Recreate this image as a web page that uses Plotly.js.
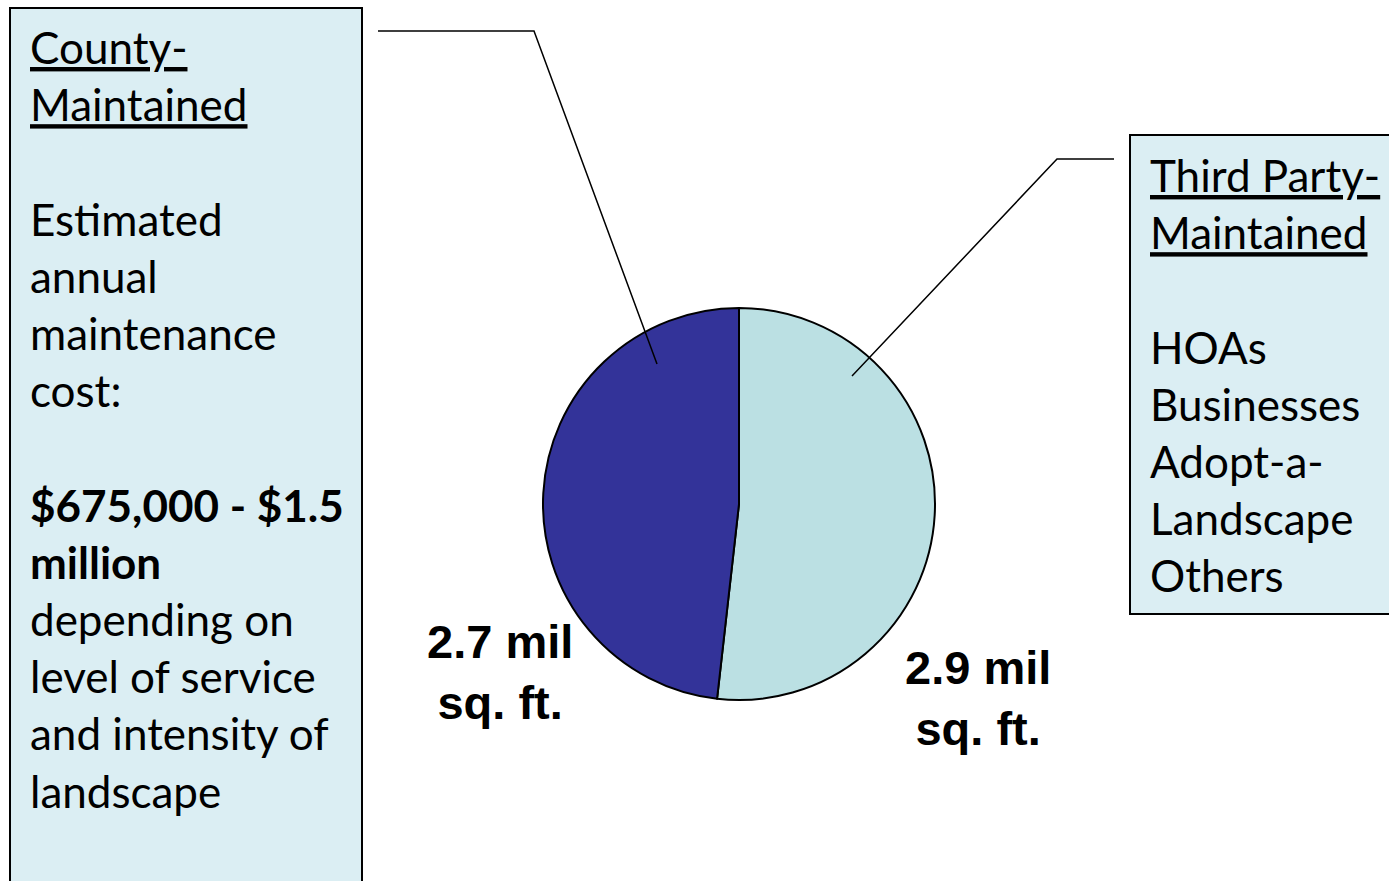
<!DOCTYPE html>
<html>
<head>
<meta charset="utf-8">
<script src="https://cdn.plot.ly/plotly-3.0.1.min.js"></script>
<style>html,body{margin:0;padding:0;background:#fff;}#chart{width:1389px;height:881px;}</style>
</head>
<body>
<div id="chart"></div>
<script>
// ---- data ----
const categories = ["Third Party-Maintained", "County-Maintained"];
const areaMilSqFt = [2.9, 2.7];
const sliceColors = ["#BBE0E3", "#333399"];
const areaLabels = ["2.9 mil<br>sq. ft.", "2.7 mil<br>sq. ft."];
const countyTitle = ["County-", "Maintained"];
const countyBody = ["Estimated", "annual", "maintenance", "cost:"];
const countyCostBold = ["$675,000 - $1.5", "million"];
const countyCostNote = ["depending on", "level of service", "and intensity of", "landscape"];
const thirdTitle = ["Third Party-", "Maintained"];
const thirdList = ["HOAs", "Businesses", "Adopt-a-", "Landscape", "Others"];

// ---- helpers: pixel -> paper ----
const W = 1389, H = 881;
const px = x => x / W;
const py = y => 1 - y / H;

const cx = 739, cy = 504, r = 196;

const ul = s => '<span style="text-decoration:underline;text-decoration-color:#6E7878">' + s + '</span>';

const leftText = countyTitle.map(ul).join('<br>') + '<br><br>' +
  countyBody.join('<br>') + '<br><br>' +
  countyCostBold.map(s => '<b>' + s + '</b>').join('<br>') + '<br>' +
  countyCostNote.join('<br>');
const rightText = thirdTitle.map(ul).join('<br>') + '<br><br>' + thirdList.join('<br>');

const trace = {
  type: 'pie',
  labels: categories,
  values: areaMilSqFt,
  sort: false,
  direction: 'clockwise',
  rotation: 0,
  textinfo: 'none',
  hoverinfo: 'label+value',
  marker: {colors: sliceColors, line: {color: '#000000', width: 2}},
  domain: {x: [px(cx - r), px(cx + r)], y: [py(cy + r), py(cy - r)]},
  showlegend: false
};

const textFont = {family: 'Lato, "Open Sans", sans-serif', size: 44, color: '#000000'};
const labelFont = {family: '"Liberation Sans", Arial, sans-serif', size: 47, color: '#000000'};

const layout = {
  width: W, height: H,
  margin: {l: 0, r: 0, t: 0, b: 0},
  paper_bgcolor: '#ffffff',
  plot_bgcolor: '#ffffff',
  showlegend: false,
  shapes: [
    {type: 'rect', xref: 'paper', yref: 'paper', x0: px(10), x1: px(362), y0: py(895), y1: py(8),
     fillcolor: '#DBEEF3', line: {color: '#000000', width: 2}, layer: 'below'},
    {type: 'rect', xref: 'paper', yref: 'paper', x0: px(1130), x1: px(1400), y0: py(614), y1: py(135),
     fillcolor: '#DBEEF3', line: {color: '#000000', width: 2}, layer: 'below'},
    {type: 'path', xref: 'paper', yref: 'paper',
     path: 'M ' + px(378) + ' ' + py(31) + ' L ' + px(534) + ' ' + py(31) + ' L ' + px(657) + ' ' + py(364),
     line: {color: '#000000', width: 1.5}},
    {type: 'path', xref: 'paper', yref: 'paper',
     path: 'M ' + px(1114) + ' ' + py(159) + ' L ' + px(1057) + ' ' + py(159) + ' L ' + px(852) + ' ' + py(376),
     line: {color: '#000000', width: 1.5}}
  ],
  annotations: [
    {xref: 'paper', yref: 'paper', x: px(28), y: py(19), xanchor: 'left', yanchor: 'top',
     text: leftText, align: 'left', showarrow: false, font: textFont},
    {xref: 'paper', yref: 'paper', x: px(1148), y: py(147), xanchor: 'left', yanchor: 'top',
     text: rightText, align: 'left', showarrow: false, font: textFont},
    {xref: 'paper', yref: 'paper', x: px(500), y: py(672), xanchor: 'center', yanchor: 'middle',
     text: '<b>' + areaLabels[1] + '</b>', align: 'center', showarrow: false, font: labelFont},
    {xref: 'paper', yref: 'paper', x: px(978), y: py(698), xanchor: 'center', yanchor: 'middle',
     text: '<b>' + areaLabels[0] + '</b>', align: 'center', showarrow: false, font: labelFont}
  ]
};

Plotly.newPlot('chart', [trace], layout, {displayModeBar: false, staticPlot: true});
</script>
</body>
</html>
